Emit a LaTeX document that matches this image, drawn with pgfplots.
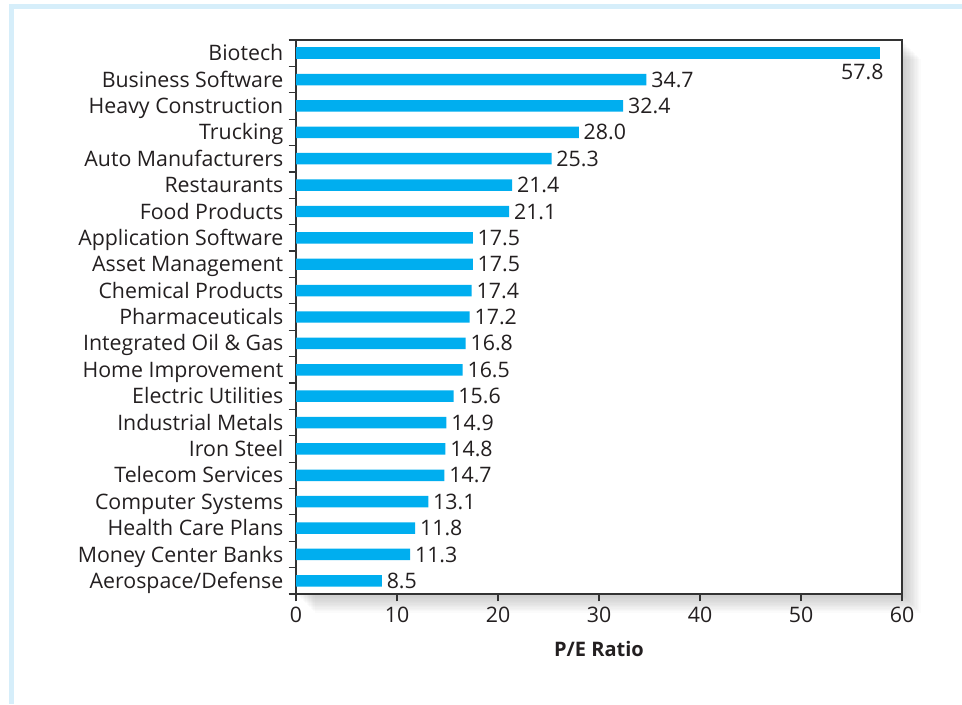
\documentclass[border=0pt]{standalone}
\usepackage{pgfplots}
\pgfplotsset{compat=1.18}
\usepackage{fontspec}
\setmainfont{Open Sans}
\definecolor{barblue}{HTML}{00AEEF}
\definecolor{txt}{HTML}{231F20}
\definecolor{frame}{HTML}{D6EEFA}
\definecolor{axisc}{HTML}{333333}
\newcommand{\lbl}{\fontsize{16pt}{19pt}\selectfont}
\begin{document}
\begin{tikzpicture}
\useasboundingbox (0,0) rectangle (721.5pt,528pt);
\fill[frame] (6.75pt,0) rectangle (10.5pt,525pt);
\fill[frame] (6.75pt,521.25pt) rectangle (721.5pt,525pt);
\foreach \i in {1,...,14} {
  \fill[black,opacity=0.016] (222pt+\i*1.0pt,82.5pt-\i*1.0pt) rectangle (676.5pt+\i*1.0pt,498pt-\i*1.0pt);
}
\begin{axis}[
  at={(222pt,82.5pt)}, anchor=south west,
  scale only axis, width=454.5pt, height=415.5pt,
  axis background/.style={fill=white},
  xbar, bar width=8.6pt, bar shift=0pt,
  xmin=0, xmax=60, ymin=-0.5, ymax=20.5, y dir=reverse,
  xtick pos=bottom, ytick pos=left,
  xtick={0,10,...,60},
  ytick={-0.5,0.5,...,20.5}, yticklabels={},
  extra y ticks={0,...,20},
  extra y tick labels={Biotech,Business Software,Heavy Construction,Trucking,Auto Manufacturers,Restaurants,Food Products,Application Software,Asset Management,Chemical Products,Pharmaceuticals,Integrated Oil \& Gas,Home Improvement,Electric Utilities,Industrial Metals,Iron Steel,Telecom Services,Computer Systems,Health Care Plans,Money Center Banks,Aerospace/Defense},
  extra y tick style={major tick length=0pt, yticklabel style={font=\lbl, text=txt, xshift=-6pt, text height=12pt, text depth=0.6pt}},
  axis line style={axisc, line width=1pt},
  tick style={axisc, line width=0.9pt},
  tick align=outside,
  major tick length=5.5pt,
  xticklabel style={font=\lbl, text=txt, yshift=-1pt},
  /pgf/number format/assume math mode=true,
  xlabel={\bfseries P/E Ratio},
  xlabel style={font=\fontsize{15pt}{18pt}\selectfont, text=txt, yshift=-6.5pt},
  nodes near coords={\pgfmathprintnumber[fixed,fixed zerofill,precision=1,assume math mode=true]{\pgfplotspointmeta}},
  nodes near coords style={font=\lbl, text=txt, inner sep=2pt, text height=12pt, text depth=0.6pt},
  point meta=explicit,
  clip=false,
]
\addplot[fill=barblue, draw=none, every node near coord/.append style={anchor=north east, xshift=5pt, yshift=-5.5pt}]
  table[x=v, y=i, meta=v] {
i v
0 57.8
};
\addplot[fill=barblue, draw=none, every node near coord/.append style={anchor=west, xshift=1.5pt}]
  table[x=v, y=i, meta=v] {
i v
1 34.7
2 32.4
3 28.0
4 25.3
5 21.4
6 21.1
7 17.5
8 17.5
9 17.4
10 17.2
11 16.8
12 16.5
13 15.6
14 14.9
15 14.8
16 14.7
17 13.1
18 11.8
19 11.3
20 8.5
};
\end{axis}
\end{tikzpicture}
\end{document}
